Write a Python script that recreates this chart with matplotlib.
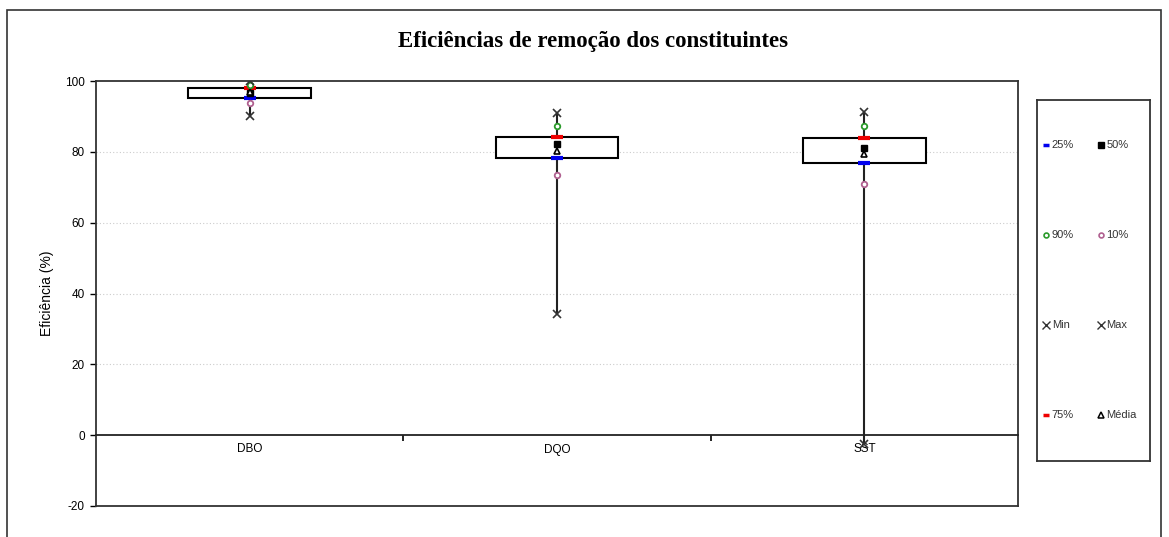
import matplotlib
matplotlib.use("Agg")
import matplotlib.pyplot as plt
from matplotlib.patches import Rectangle

categories = ['DBO', 'DQO', 'SST']
p25 = [95.1, 78.4, 76.8]
p75 = [98.0, 84.2, 83.9]
median = [96.7, 82.3, 81.0]
mean = [97.0, 80.3, 79.3]
p10 = [93.9, 73.4, 70.9]
p90 = [98.9, 87.3, 87.3]
vmin = [90.0, 34.2, -2.5]
vmax = [100.0, 90.9, 91.2]

plt.rcParams['font.family'] = ['Liberation Sans', 'DejaVu Sans']
plt.rcParams['axes.unicode_minus'] = False

fig = plt.figure(figsize=(11.69, 5.37), dpi=100)
W, H = 1169, 537

# outer frame
fig.patches.append(Rectangle((7 / W, -0.05), (1161 - 7) / W, 1 - 10 / H + 0.05,
                             transform=fig.transFigure, fill=False,
                             edgecolor='#333333', linewidth=1.2))

ax = fig.add_axes([96 / W, 1 - 506 / H, (1018 - 96) / W, (506 - 81) / H])
ax.set_xlim(0.5, 3.5)
ax.set_ylim(-20, 100)

xs = list(range(1, len(categories) + 1))
bw = 0.4
for i, x in enumerate(xs):
    ax.add_patch(Rectangle((x - bw / 2, p25[i]), bw, p75[i] - p25[i],
                           facecolor='white', edgecolor='black', linewidth=1.5, zorder=3))
    ax.plot([x, x], [vmin[i], p25[i]], color='#222222', lw=1.5, zorder=2)
    ax.plot([x, x], [p75[i], vmax[i]], color='#222222', lw=1.5, zorder=2)

ax.plot(xs, p25, linestyle='none', marker='_', markersize=9, mew=3, color='#0000ee', zorder=5)
ax.plot(xs, p75, linestyle='none', marker='_', markersize=9, mew=3, color='#ee0000', zorder=5)
ax.plot(xs, median, linestyle='none', marker='s', markersize=5, color='black', zorder=6)
ax.plot(xs, mean, linestyle='none', marker='^', markersize=5, mfc='white', mec='black', mew=1.2, zorder=6)
ax.plot(xs, p90, linestyle='none', marker='o', markersize=4, mfc='white', mec='#2a9a2a', mew=1.3, zorder=6)
ax.plot(xs, p10, linestyle='none', marker='o', markersize=4, mfc='white', mec='#b06090', mew=1.3, zorder=6)
ax.plot(xs, vmin, linestyle='none', marker='x', markersize=6, mew=1.2, color='#333333', zorder=6)
ax.plot(xs, vmax, linestyle='none', marker='x', markersize=6, mew=1.2, color='#333333', zorder=6)

# grid
for g in [20, 40, 60, 80]:
    ax.axhline(g, color='#cccccc', lw=0.8, linestyle=(0, (1, 2)), zorder=0)

# spines
for s in ['top', 'right', 'left']:
    ax.spines[s].set_linewidth(1.3)
    ax.spines[s].set_color('#333333')
ax.spines['bottom'].set_position(('data', 0))
ax.spines['bottom'].set_linewidth(1.3)
ax.spines['bottom'].set_color('#222222')
ax.plot([0, 1], [0, 0], transform=ax.transAxes, color='#333333', lw=1.3, clip_on=False, zorder=4)

ax.set_xticks(xs)
ax.set_xticklabels(categories, fontsize=8.5)
ax.set_xticks([1.5, 2.5], minor=True)
ax.tick_params(axis='x', which='major', length=0, pad=6)
ax.tick_params(axis='x', which='minor', length=4, direction='out', width=1.2)
ax.set_yticks([-20, 0, 20, 40, 60, 80, 100])
ax.tick_params(axis='y', length=4, width=1, labelsize=8.5, pad=4)
ax.set_ylabel('Eficiência (%)', fontsize=10, labelpad=8)

fig.text(593 / W, 1 - 42 / H, 'Eficiências de remoção dos constituintes',
         ha='center', va='center', fontsize=16.5, fontweight='bold',
         family=['Liberation Serif', 'DejaVu Serif'])

# legend panel
lax = fig.add_axes([1037 / W, 1 - 461 / H, (1150 - 1037) / W, (461 - 100) / H])
lax.set_xlim(0, 1)
lax.set_ylim(0, 1)
lax.set_xticks([])
lax.set_yticks([])
for s in lax.spines.values():
    s.set_linewidth(1.3)
    s.set_color('#333333')

entries = [
    (0.08, 0.875, dict(marker='_', markersize=5, mew=2.5, color='#0000ee'), '25%'),
    (0.565, 0.875, dict(marker='s', markersize=4, color='black'), '50%'),
    (0.08, 0.626, dict(marker='o', markersize=3.5, mfc='white', mec='#2a9a2a', mew=1.2), '90%'),
    (0.565, 0.626, dict(marker='o', markersize=3.5, mfc='white', mec='#b06090', mew=1.2), '10%'),
    (0.08, 0.377, dict(marker='x', markersize=6, mew=1, color='#333333'), 'Min'),
    (0.565, 0.377, dict(marker='x', markersize=6, mew=1, color='#333333'), 'Max'),
    (0.08, 0.127, dict(marker='_', markersize=5, mew=2.5, color='#ee0000'), '75%'),
    (0.565, 0.127, dict(marker='^', markersize=4, mfc='white', mec='black', mew=1.1), 'Média'),
]
for x, y, st, lab in entries:
    lax.plot([x], [y], linestyle='none', **st)
    lax.text(x + 0.05, y, lab, ha='left', va='center', fontsize=8, color='#333333')

fig.savefig('out.png', dpi=100)
